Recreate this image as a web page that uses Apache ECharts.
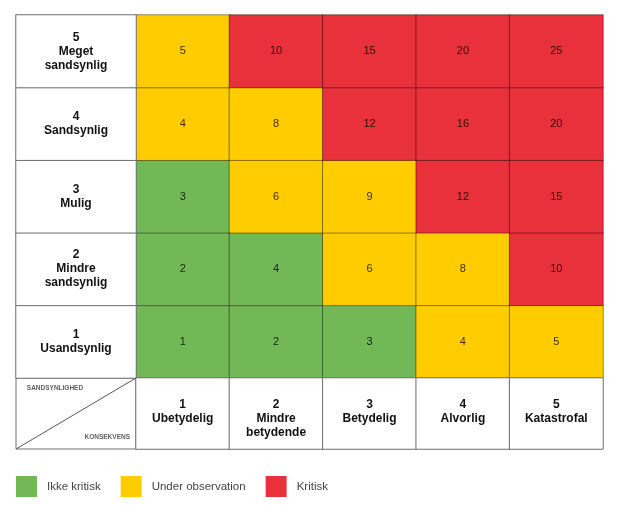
<!DOCTYPE html>
<html>
<head>
<meta charset="utf-8">
<script src="https://cdn.jsdelivr.net/npm/echarts@6/dist/echarts.min.js"></script>
<style>html,body{margin:0;padding:0;background:#fff;}#c{width:625px;height:505px;}</style>
</head>
<body>
<div id="c"></div>
<script>
// Consequence (x) categories, bottom header row
const consequenceLabels = ['1\nUbetydelig', '2\nMindre\nbetydende', '3\nBetydelig', '4\nAlvorlig', '5\nKatastrofal'];
// Likelihood (y) categories, from bottom (1) to top (5)
const likelihoodLabels = ['1\nUsandsynlig', '2\nMindre\nsandsynlig', '3\nMulig', '4\nSandsynlig', '5\nMeget\nsandsynlig'];
// Score per cell: rows = likelihood 1..5 (bottom to top), cols = consequence 1..5
const scores = [
  [1, 2, 3, 4, 5],
  [2, 4, 6, 8, 10],
  [3, 6, 9, 12, 15],
  [4, 8, 12, 16, 20],
  [5, 10, 15, 20, 25]
];
// Risk level per cell: 0 = Ikke kritisk, 1 = Under observation, 2 = Kritisk
const levels = [
  [0, 0, 0, 1, 1],
  [0, 0, 1, 1, 2],
  [0, 1, 1, 2, 2],
  [1, 1, 2, 2, 2],
  [1, 2, 2, 2, 2]
];
const levelNames = ['Ikke kritisk', 'Under observation', 'Kritisk'];
const levelColors = ['#72b857', '#ffcc00', '#e8313b'];
const cornerTexts = ['SANDSYNLIGHED', 'KONSEKVENS'];

const FONT = '"Liberation Sans", Arial, sans-serif';
const cats5 = ['1', '2', '3', '4', '5'];

const matrixData = [];
for (let r = 0; r < 5; r++) {
  for (let c = 0; c < 5; c++) {
    matrixData.push([c, r, scores[r][c], levels[r][c]]);
  }
}
const rowData = likelihoodLabels.map((_, i) => [0, i, i + 1]);
const colData = consequenceLabels.map((_, i) => [i, 0, i + 1]);

const hiddenCat = (data, gridIndex) => ({
  type: 'category', data: data, gridIndex: gridIndex,
  axisLine: {show: false}, axisTick: {show: false}, axisLabel: {show: false}, splitLine: {show: false}
});
const hiddenVal = (gridIndex) => ({
  type: 'value', min: 0, max: 1, gridIndex: gridIndex,
  axisLine: {show: false}, axisTick: {show: false}, axisLabel: {show: false}, splitLine: {show: false}
});

const chart = echarts.init(document.getElementById('c'));
chart.setOption({
  animation: false,
  textStyle: {fontFamily: FONT},
  grid: [
    {left: 136, top: 15, width: 467, height: 363},
    {left: 16, top: 15, width: 120, height: 363},
    {left: 136, top: 378, width: 467, height: 71},
    {left: 16, top: 378, width: 120, height: 71, show: true, borderColor: '#707070', borderWidth: 1, backgroundColor: '#fff'}
  ],
  xAxis: [hiddenCat(cats5, 0), hiddenCat(['a'], 1), hiddenCat(cats5, 2), hiddenVal(3)],
  yAxis: [hiddenCat(cats5, 0), hiddenCat(cats5, 1), hiddenCat(['a'], 2), hiddenVal(3)],
  visualMap: {
    type: 'piecewise',
    seriesIndex: 0,
    dimension: 3,
    orient: 'horizontal',
    left: 1,
    top: 461,
    itemWidth: 21,
    itemHeight: 21,
    itemGap: 20,
    textGap: 10,
    itemSymbol: 'rect',
    hoverLink: false,
    selectedMode: false,
    textStyle: {fontSize: 11.5, color: '#444', fontFamily: FONT},
    pieces: levelNames.map((n, i) => ({value: i, label: n, color: levelColors[i]}))
  },
  series: [
    {
      type: 'heatmap', xAxisIndex: 0, yAxisIndex: 0,
      data: matrixData,
      encode: {x: 0, y: 1, value: 2},
      itemStyle: {borderColor: 'rgba(0,0,0,0.42)', borderWidth: 1},
      emphasis: {disabled: true},
      label: {show: true, fontSize: 11, color: 'rgba(0,0,0,0.78)', fontFamily: FONT,
        formatter: p => String(p.value[2])}
    },
    {
      type: 'heatmap', xAxisIndex: 1, yAxisIndex: 1,
      data: rowData,
      itemStyle: {color: '#fff', borderColor: '#6e6e6e', borderWidth: 1},
      emphasis: {disabled: true},
      label: {show: true, fontSize: 12, fontWeight: 'bold', color: '#111', lineHeight: 14, fontFamily: FONT,
        formatter: p => likelihoodLabels[p.dataIndex]}
    },
    {
      type: 'heatmap', xAxisIndex: 2, yAxisIndex: 2,
      data: colData,
      itemStyle: {color: '#fff', borderColor: '#6e6e6e', borderWidth: 1},
      emphasis: {disabled: true},
      label: {show: true, position: 'insideTop', distance: 20, fontSize: 12, fontWeight: 'bold', color: '#111', lineHeight: 14, fontFamily: FONT,
        formatter: p => consequenceLabels[p.dataIndex]}
    },
    {
      type: 'line', xAxisIndex: 3, yAxisIndex: 3,
      data: [[0, 0], [1, 1]],
      symbol: 'none', silent: true,
      lineStyle: {color: '#555', width: 1}
    },
    {
      type: 'scatter', xAxisIndex: 3, yAxisIndex: 3,
      symbolSize: 0, silent: true,
      data: [
        {value: [0.09, 0.86], label: {align: 'left'}},
        {value: [0.95, 0.17], label: {align: 'right'}}
      ],
      label: {show: true, position: 'inside', fontSize: 6.5, fontWeight: 'bold', color: '#333', fontFamily: FONT,
        formatter: p => cornerTexts[p.dataIndex]}
    }
  ]
});
</script>
</body>
</html>
